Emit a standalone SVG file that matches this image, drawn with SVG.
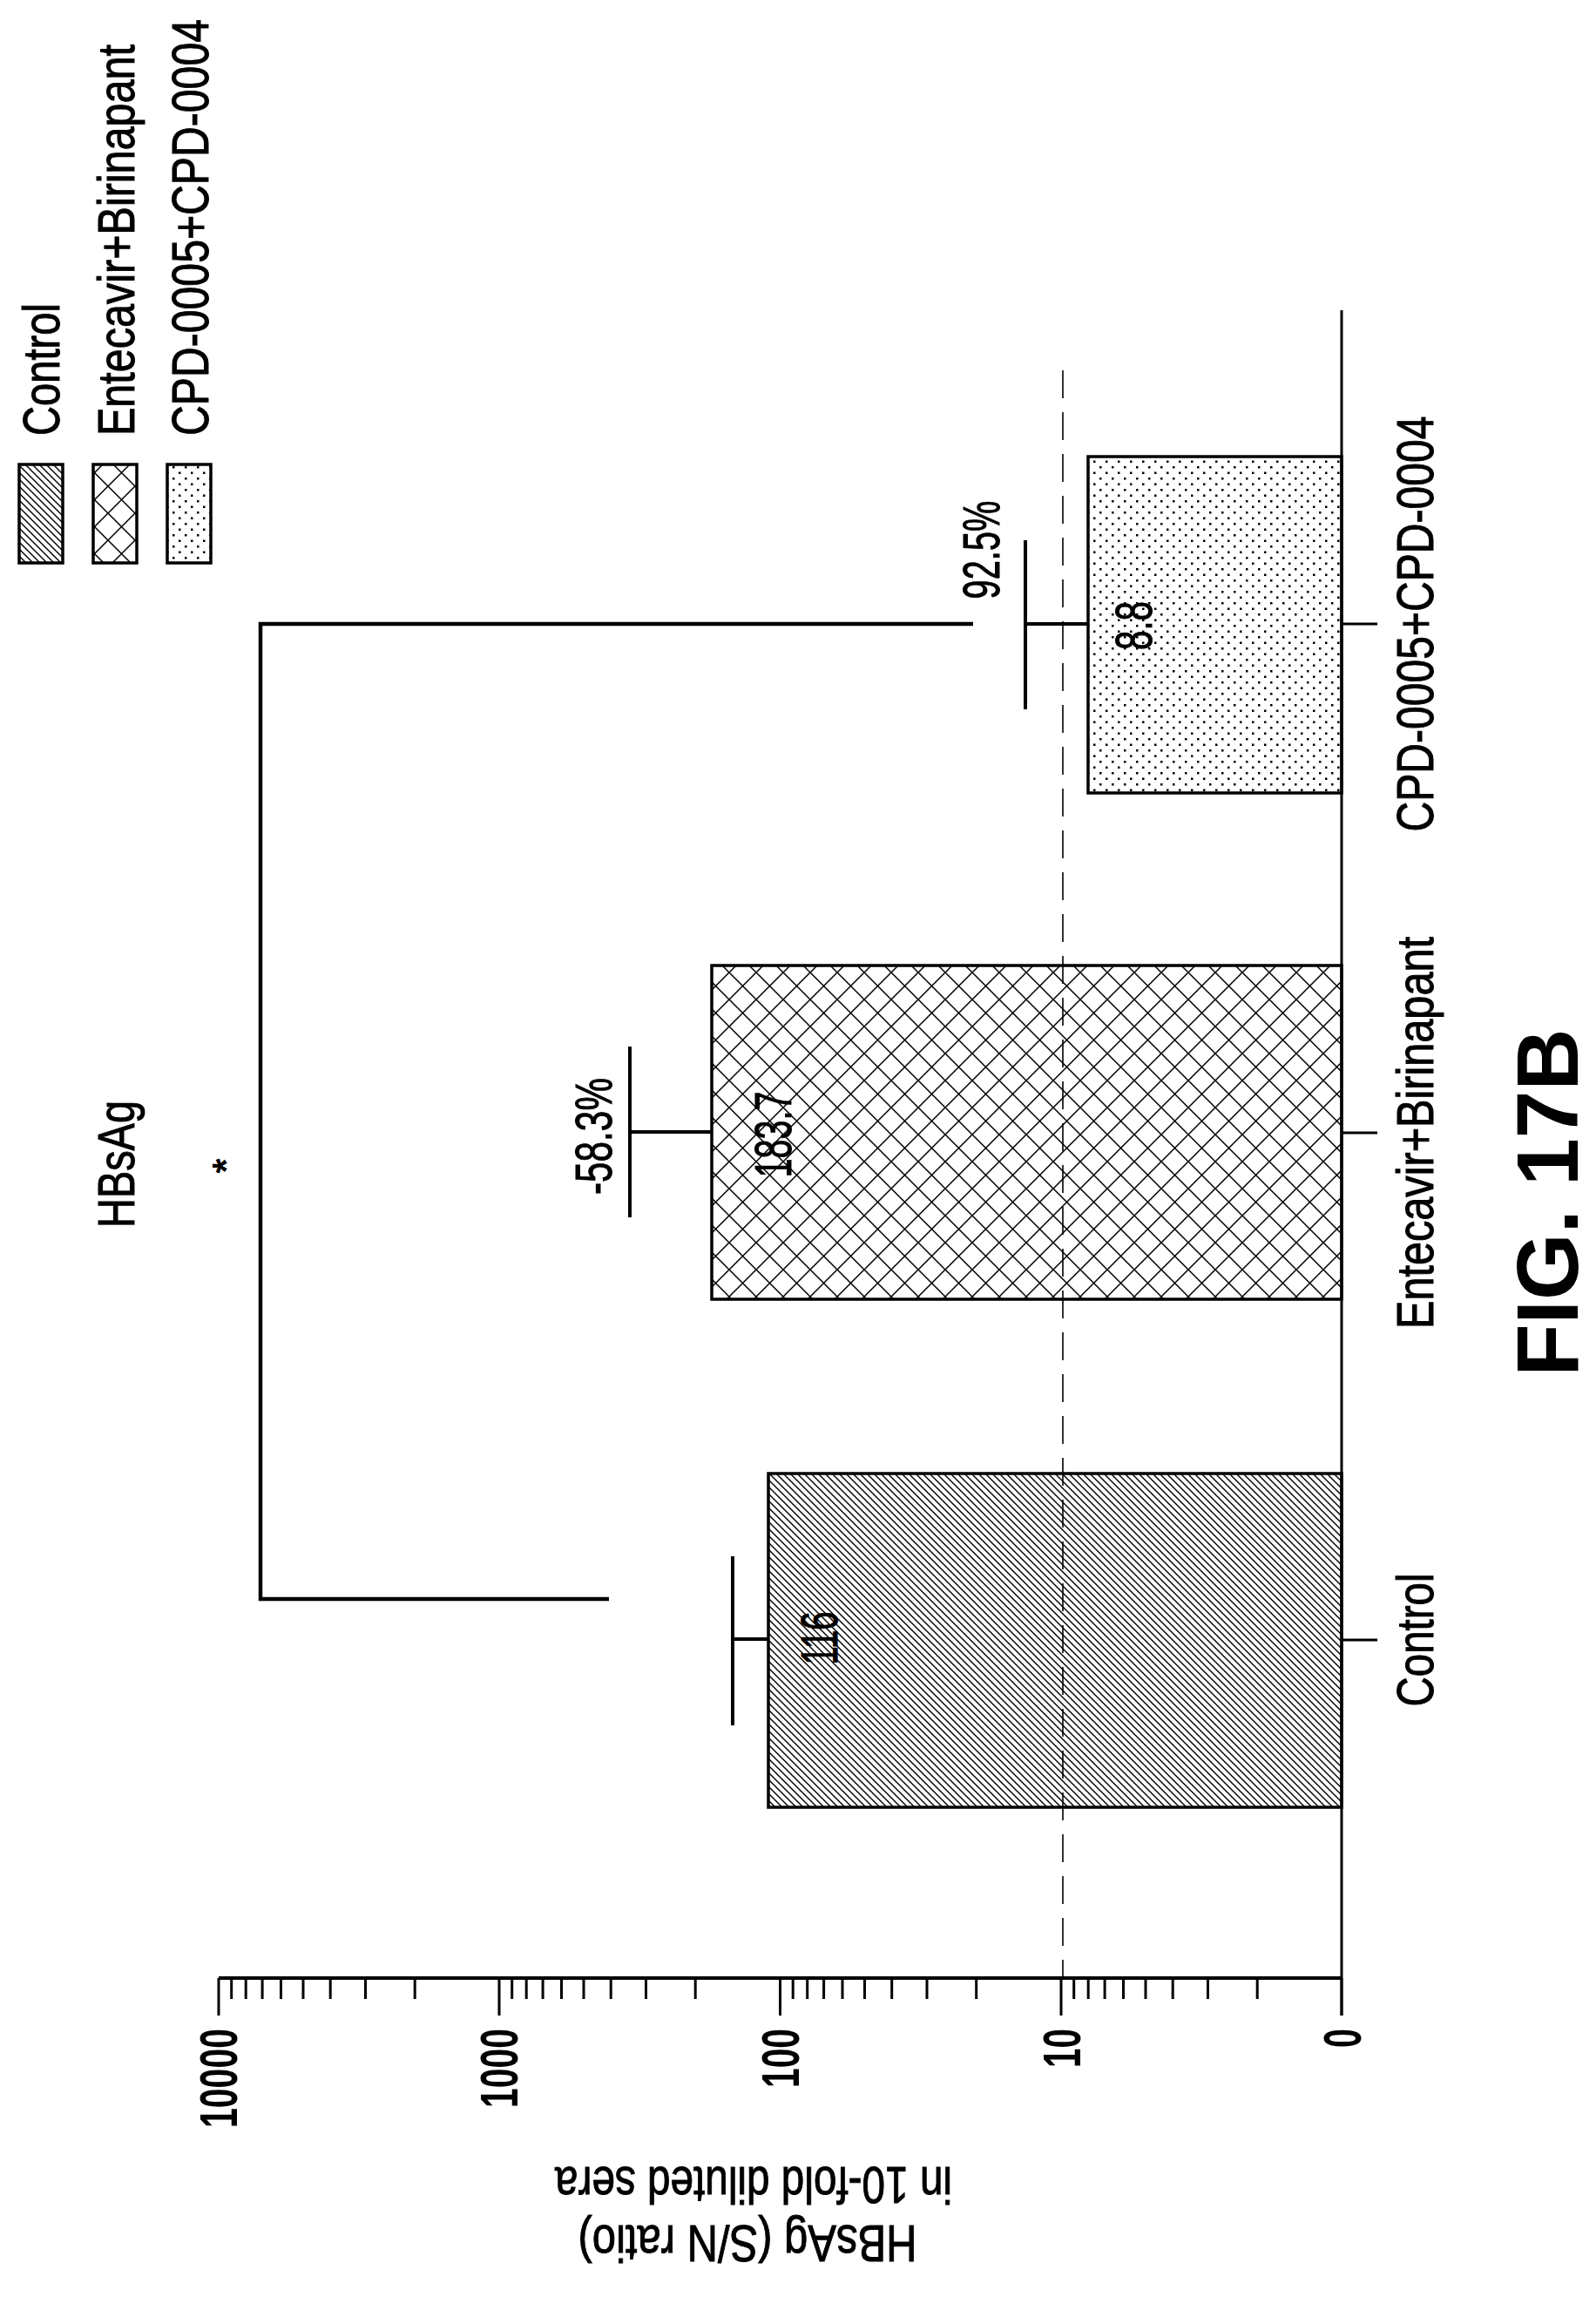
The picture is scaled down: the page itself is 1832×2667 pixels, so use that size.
<svg xmlns="http://www.w3.org/2000/svg" width="1832" height="2667" viewBox="0 0 1832 2667">
<style>
text{font-family:"Liberation Sans",Arial,sans-serif;fill:#000}
.ln{stroke:#000;fill:none}
.bar{stroke:#000;stroke-width:3.5}
.t60{font-size:60px;stroke:#000;stroke-width:1}
.tk{font-size:62px;font-weight:bold}
</style>
<defs>
<pattern id="hatch" width="8" height="8" patternUnits="userSpaceOnUse">
<path d="M-2,-2 L10,10 M-2,6 L2,10 M6,-2 L10,2" stroke="#000" stroke-width="1.4"/>
</pattern>
<pattern id="cross" width="31" height="31" patternUnits="userSpaceOnUse">
<path d="M0,0 L31,31 M31,0 L0,31" stroke="#000" stroke-width="1.5"/>
</pattern>
<pattern id="dots" width="14" height="13" patternUnits="userSpaceOnUse">
<rect x="2" y="2" width="2.5" height="2.5" fill="#000"/>
<rect x="9" y="8.5" width="2.5" height="2.5" fill="#000"/>
</pattern>
</defs>
<rect width="1832" height="2667" fill="#fff"/>

<g id="legend">
<rect x="22" y="533" width="50" height="113" fill="url(#hatch)" class="bar"/>
<rect x="107" y="533" width="50" height="113" fill="url(#cross)" class="bar"/>
<rect x="192" y="533" width="50" height="113" fill="url(#dots)" class="bar"/>
<text class="t60" transform="translate(68,500) rotate(-90)" textLength="152" lengthAdjust="spacingAndGlyphs">Control</text>
<text class="t60" transform="translate(154,500) rotate(-90)" textLength="449" lengthAdjust="spacingAndGlyphs">Entecavir+Birinapant</text>
<text class="t60" transform="translate(239,500) rotate(-90)" textLength="478" lengthAdjust="spacingAndGlyphs">CPD-0005+CPD-0004</text>
</g>

<g id="title">
<text class="t60" text-anchor="middle" transform="translate(154,1336) rotate(-90)" textLength="146" lengthAdjust="spacingAndGlyphs">HBsAg</text>
</g>

<g id="axes">
<line class="ln" x1="1220" y1="425" x2="1220" y2="2270" stroke-width="1.6" stroke-dasharray="32,16"/>
<line class="ln" x1="251" y1="2270" x2="1540" y2="2270" stroke-width="4"/>
<line class="ln" x1="1540" y1="356" x2="1540" y2="2313" stroke-width="3"/>
<path class="ln" stroke-width="3" d="M251,2270V2313 M573,2270V2313 M895.5,2270V2313 M1218,2270V2313 M1540,2270V2313
M265.7,2270v24 M282.2,2270v24 M301.1,2270v24 M322.5,2270v24 M348,2270v24 M379.2,2270v24 M419.5,2270v24 M476.2,2270v24
M587.7,2270v24 M604.2,2270v24 M623.1,2270v24 M644.5,2270v24 M670,2270v24 M701.2,2270v24 M741.5,2270v24 M798.2,2270v24
M910.2,2270v24 M926.7,2270v24 M945.6,2270v24 M967,2270v24 M992.5,2270v24 M1023.7,2270v24 M1064,2270v24 M1120.7,2270v24
M1232.7,2270v24 M1249.2,2270v24 M1268.1,2270v24 M1289.5,2270v24 M1315,2270v24 M1346.2,2270v24 M1386.5,2270v24 M1443.2,2270v24
M1540,716H1581 M1540,1300H1581 M1540,1882H1581"/>
<text class="tk" text-anchor="end" transform="translate(272,2328) rotate(-90)" textLength="114" lengthAdjust="spacingAndGlyphs">10000</text>
<text class="tk" text-anchor="end" transform="translate(594,2328) rotate(-90)" textLength="91" lengthAdjust="spacingAndGlyphs">1000</text>
<text class="tk" text-anchor="end" transform="translate(917,2328) rotate(-90)" textLength="68" lengthAdjust="spacingAndGlyphs">100</text>
<text class="tk" text-anchor="end" transform="translate(1240,2328) rotate(-90)" textLength="45" lengthAdjust="spacingAndGlyphs">10</text>
<text class="tk" text-anchor="end" transform="translate(1562,2328) rotate(-90)" textLength="22" lengthAdjust="spacingAndGlyphs">0</text>
<text class="t60" text-anchor="middle" transform="translate(858,2554) rotate(180)" textLength="389" lengthAdjust="spacingAndGlyphs">HBsAg (S/N ratio)</text>
<text class="t60" text-anchor="middle" transform="translate(865,2487) rotate(180)" textLength="456" lengthAdjust="spacingAndGlyphs">in 10-fold diluted sera</text>
</g>

<g id="bar-control">
<rect x="882" y="1691" width="658" height="383" fill="url(#hatch)" class="bar"/>
<path class="ln" stroke-width="4" d="M882,1881H841 M841,1786V1980"/>
<text class="t60" text-anchor="middle" transform="translate(961,1880) rotate(-90)" textLength="61" lengthAdjust="spacingAndGlyphs">116</text>
<text class="t60" text-anchor="middle" transform="translate(1645,1882) rotate(-90)" textLength="153" lengthAdjust="spacingAndGlyphs">Control</text>
</g>

<g id="bar-entecavir">
<rect x="817" y="1108" width="723" height="383" fill="url(#cross)" class="bar"/>
<path class="ln" stroke-width="4" d="M817,1299H723 M723,1201V1397"/>
<text class="t60" text-anchor="middle" transform="translate(908,1302) rotate(-90)" textLength="99" lengthAdjust="spacingAndGlyphs">183.7</text>
<text class="t60" text-anchor="middle" transform="translate(702,1304) rotate(-90)" textLength="134" lengthAdjust="spacingAndGlyphs">-58.3%</text>
<text class="t60" text-anchor="middle" transform="translate(1645,1300) rotate(-90)" textLength="450" lengthAdjust="spacingAndGlyphs">Entecavir+Birinapant</text>
</g>

<g id="bar-cpd">
<rect x="1249" y="524" width="291" height="386" fill="url(#dots)" class="bar"/>
<path class="ln" stroke-width="4" d="M1249,716H1177 M1177,620V814"/>
<text class="t60" text-anchor="middle" transform="translate(1322,718) rotate(-90)" textLength="56" lengthAdjust="spacingAndGlyphs">8.8</text>
<text class="t60" text-anchor="middle" transform="translate(1147,631) rotate(-90)" textLength="113" lengthAdjust="spacingAndGlyphs">92.5%</text>
<text class="t60" text-anchor="middle" transform="translate(1645,716) rotate(-90)" textLength="477" lengthAdjust="spacingAndGlyphs">CPD-0005+CPD-0004</text>
</g>

<g id="connectors">
<polyline class="ln" stroke-width="4.5" points="699,1835 299,1835 299,716 1117,716"/>
<text text-anchor="middle" font-size="44" font-weight="bold" transform="translate(275,1338) rotate(-90)">*</text>
</g>

<g id="figlabel">
<text font-size="100" font-family="'Liberation Mono',monospace" font-weight="bold" text-anchor="middle" transform="translate(1811,1380) rotate(-90)" textLength="399" lengthAdjust="spacingAndGlyphs">FIG. 17B</text>
</g>
</svg>
